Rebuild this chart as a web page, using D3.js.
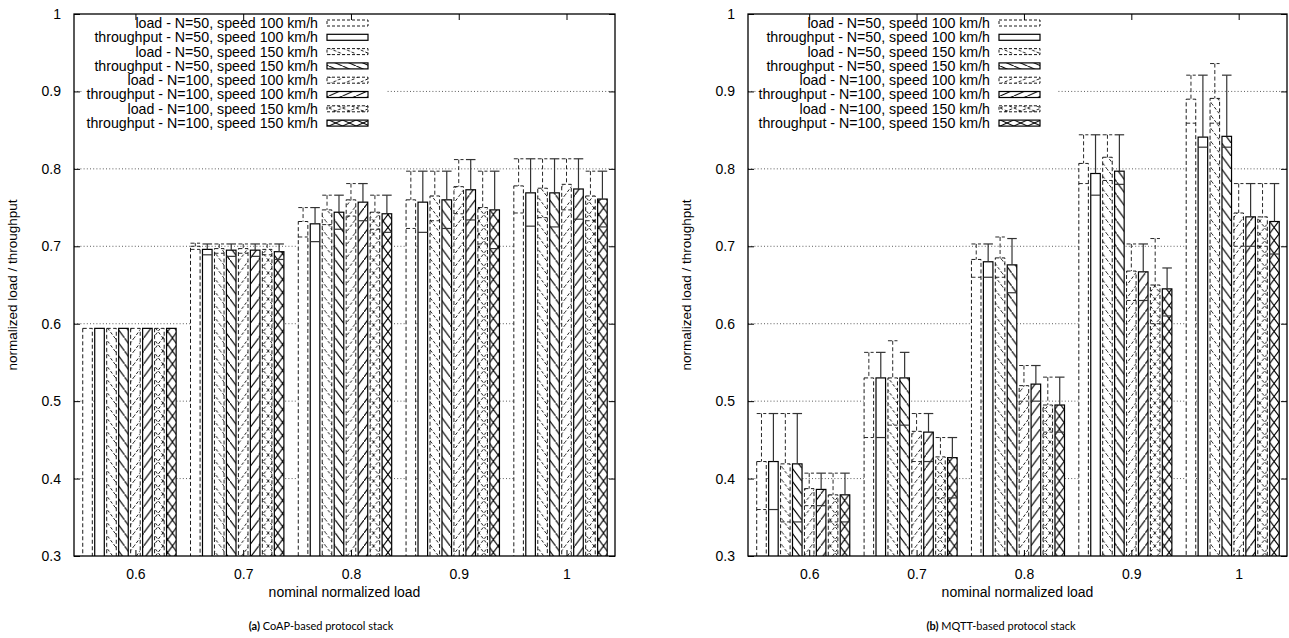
<!DOCTYPE html>
<html>
<head>
<meta charset="utf-8">
<script src="https://cdn.jsdelivr.net/npm/d3@7.9.0/dist/d3.min.js"></script>
<style>
  body { margin: 0; background: #fff; }
  svg text { font-family: "Liberation Sans", Arial, sans-serif; fill: #000; }
  .caption { font-family: Lato, "Open Sans", sans-serif; }
</style>
</head>
<body>
<svg id="chart" width="1289" height="638"></svg>
<script>
const categories = ['0.6', '0.7', '0.8', '0.9', '1'];
const seriesNames = [
  'load - N=50, speed 100 km/h',
  'throughput - N=50, speed 100 km/h',
  'load - N=50, speed 150 km/h',
  'throughput - N=50, speed 150 km/h',
  'load - N=100, speed 100 km/h',
  'throughput - N=100, speed 100 km/h',
  'load - N=100, speed 150 km/h',
  'throughput - N=100, speed 150 km/h'
];
const yTicks = [0.3, 0.4, 0.5, 0.6, 0.7, 0.8, 0.9, 1];

// (a) CoAP : one row per series, one value per category
const coapValues = [
  [0.594, 0.700, 0.732, 0.760, 0.778],
  [0.594, 0.696, 0.729, 0.757, 0.769],
  [0.594, 0.697, 0.747, 0.765, 0.775],
  [0.594, 0.695, 0.744, 0.760, 0.769],
  [0.594, 0.697, 0.760, 0.777, 0.780],
  [0.594, 0.695, 0.757, 0.773, 0.774],
  [0.594, 0.696, 0.744, 0.750, 0.765],
  [0.594, 0.693, 0.742, 0.747, 0.761]
];
const coapHigh = [
  [0.594, 0.704, 0.750, 0.797, 0.813],
  [0.594, 0.703, 0.750, 0.797, 0.813],
  [0.594, 0.703, 0.766, 0.797, 0.813],
  [0.594, 0.703, 0.766, 0.797, 0.813],
  [0.594, 0.703, 0.781, 0.812, 0.813],
  [0.594, 0.703, 0.781, 0.812, 0.813],
  [0.594, 0.703, 0.766, 0.797, 0.797],
  [0.594, 0.703, 0.766, 0.797, 0.797]
];
const coapLow = [
  [0.594, 0.696, 0.712, 0.723, 0.743],
  [0.594, 0.689, 0.706, 0.718, 0.726],
  [0.594, 0.691, 0.728, 0.733, 0.737],
  [0.594, 0.687, 0.722, 0.723, 0.725],
  [0.594, 0.691, 0.739, 0.742, 0.747],
  [0.594, 0.687, 0.733, 0.734, 0.735],
  [0.594, 0.689, 0.722, 0.703, 0.733],
  [0.594, 0.683, 0.718, 0.697, 0.725]
];

// (b) MQTT
const mqttValues = [
  [0.422, 0.530, 0.683, 0.807, 0.890],
  [0.422, 0.530, 0.680, 0.794, 0.841],
  [0.419, 0.530, 0.685, 0.815, 0.891],
  [0.419, 0.530, 0.676, 0.797, 0.842],
  [0.387, 0.461, 0.520, 0.668, 0.743],
  [0.386, 0.460, 0.522, 0.667, 0.738],
  [0.379, 0.428, 0.495, 0.650, 0.738],
  [0.379, 0.427, 0.495, 0.645, 0.732]
];
const mqttHigh = [
  [0.484, 0.563, 0.703, 0.844, 0.921],
  [0.484, 0.563, 0.703, 0.844, 0.921],
  [0.484, 0.578, 0.712, 0.844, 0.936],
  [0.484, 0.563, 0.710, 0.844, 0.921],
  [0.407, 0.484, 0.546, 0.703, 0.781],
  [0.407, 0.484, 0.546, 0.703, 0.781],
  [0.407, 0.453, 0.531, 0.710, 0.781],
  [0.407, 0.453, 0.531, 0.672, 0.781]
];
const mqttLow = [
  [0.360, 0.453, 0.660, 0.781, 0.859],
  [0.360, 0.453, 0.660, 0.766, 0.828],
  [0.344, 0.469, 0.660, 0.785, 0.859],
  [0.344, 0.469, 0.640, 0.780, 0.828],
  [0.365, 0.422, 0.500, 0.630, 0.700],
  [0.365, 0.422, 0.500, 0.630, 0.700],
  [0.344, 0.375, 0.460, 0.600, 0.700],
  [0.344, 0.375, 0.460, 0.610, 0.690]
];

// fill style per series: none, backslash, slash, cross ; dashed = load series
const hatch = ['none', 'none', 'back', 'back', 'fwd', 'fwd', 'cross', 'cross'];
const DASH = '4,2.5';

const svg = d3.select('#chart');
const defs = svg.append('defs');

const nSeries = seriesNames.length;
const slot = 1 / (nSeries + 1);
const barW = slot * 0.8;

// hatch patterns; w/h give the slope of the lines
function makePattern(id, kind, dashed, w, h) {
  const p = defs.append('pattern')
    .attr('id', id)
    .attr('patternUnits', 'userSpaceOnUse')
    .attr('width', w).attr('height', h);
  p.append('rect').attr('width', w).attr('height', h).attr('fill', '#fff');
  const segs = [];
  if (kind === 'back' || kind === 'cross') {
    segs.push([-w, -h, 2 * w, 2 * h]);
  }
  if (kind === 'fwd' || kind === 'cross') {
    segs.push([-w, 2 * h, 2 * w, -h]);
  }
  segs.forEach(s => {
    p.append('line')
      .attr('x1', s[0]).attr('y1', s[1]).attr('x2', s[2]).attr('y2', s[3])
      .attr('stroke', '#000').attr('stroke-width', dashed ? 0.9 : 1.1)
      .attr('stroke-dasharray', dashed ? '3,2' : null);
  });
}

function drawChart(opt) {
  const { left, right, top, bottom, values, low, high, tag } = opt;

  const x = d3.scaleLinear().domain([-0.57, 4.45]).range([left, right]);
  const y = d3.scaleLinear().domain([0.3, 1]).range([bottom, top]);
  const bw = x(barW) - x(0);

  hatch.forEach((k, j) => {
    if (k !== 'none') makePattern(`${tag}-p${j}`, k, j % 2 === 0, bw, 13);
  });

  const g = svg.append('g');

  g.append('clipPath').attr('id', `${tag}-clip`)
    .append('rect')
    .attr('x', left).attr('y', top)
    .attr('width', right - left).attr('height', bottom - top);

  // grid
  g.append('g')
    .selectAll('line')
    .data(yTicks.filter(t => t > 0.3 && t < 1))
    .join('line')
    .attr('x1', left).attr('x2', right)
    .attr('y1', d => y(d)).attr('y2', d => y(d))
    .attr('stroke', '#333')
    .attr('stroke-width', 0.8)
    .attr('stroke-dasharray', '1,2.2');

  const bars = g.append('g').attr('clip-path', `url(#${tag}-clip)`);

  values.forEach((row, j) => {
    const dashed = j % 2 === 0;
    row.forEach((v, i) => {
      const cx = x(i + (j - nSeries / 2) * slot);
      const x0 = cx - bw / 2;
      bars.append('rect')
        .attr('x', x0)
        .attr('y', y(v))
        .attr('width', bw)
        .attr('height', y(0.3) - y(v) + 2)
        .attr('fill', hatch[j] === 'none' ? '#fff' : `url(#${tag}-p${j})`)
        .attr('stroke', '#000')
        .attr('stroke-width', dashed ? 0.9 : 1.2)
        .attr('stroke-dasharray', dashed ? DASH : null);

      // error bar
      const hi = high[j][i];
      const lo = low[j][i];
      const eb = bars.append('g')
        .attr('stroke', dashed ? '#111' : '#333')
        .attr('stroke-width', dashed ? 0.9 : 1.2)
        .attr('stroke-dasharray', dashed ? DASH : null);
      if (hi > v) {
        eb.append('line').attr('x1', cx).attr('x2', cx)
          .attr('y1', y(hi)).attr('y2', y(v));
        eb.append('line').attr('x1', x0).attr('x2', x0 + bw)
          .attr('y1', y(hi)).attr('y2', y(hi));
      }
      if (lo < v) {
        eb.append('line').attr('x1', x0).attr('x2', x0 + bw)
          .attr('y1', y(lo)).attr('y2', y(lo));
      }
    });
  });

  // legend
  const lg = g.append('g');
  const rowH = 14.3;
  const textRight = left + opt.legendTextRight;
  lg.append('rect')
    .attr('x', left + 8).attr('y', top + 2)
    .attr('width', opt.legendTextRight + 60).attr('height', rowH * 8 + 4)
    .attr('fill', '#fff');
  seriesNames.forEach((name, j) => {
    const cy = top + 9 + j * rowH;
    const dashed = j % 2 === 0;
    lg.append('text')
      .attr('x', textRight).attr('y', cy)
      .attr('dy', '0.35em')
      .attr('text-anchor', 'end')
      .attr('font-size', 14.2)
      .text(name);
    lg.append('rect')
      .attr('x', textRight + 9).attr('y', cy - 3)
      .attr('width', 41).attr('height', 6)
      .attr('fill', hatch[j] === 'none' ? '#fff' : `url(#${tag}-l${j})`)
      .attr('stroke', '#000')
      .attr('stroke-width', dashed ? 0.9 : 1.2)
      .attr('stroke-dasharray', dashed ? '3,2' : null);
    if (hatch[j] !== 'none') makePattern(`${tag}-l${j}`, hatch[j], dashed, 13.7, 6);
  });

  // border
  g.append('rect')
    .attr('x', left).attr('y', top)
    .attr('width', right - left).attr('height', bottom - top)
    .attr('fill', 'none').attr('stroke', '#000').attr('stroke-width', 1.3);

  // axes
  const fmt = d => (d === 1 ? '1' : d.toFixed(1));
  const yAxis = g.append('g')
    .attr('transform', `translate(${left},0)`)
    .call(d3.axisLeft(y).tickValues(yTicks).tickFormat(fmt).tickSizeInner(-6).tickSizeOuter(0).tickPadding(13));
  g.append('g')
    .attr('transform', `translate(${right},0)`)
    .call(d3.axisRight(y).tickValues(yTicks).tickFormat('').tickSizeInner(-6).tickSizeOuter(0));
  const xAxis = g.append('g')
    .attr('transform', `translate(0,${bottom})`)
    .call(d3.axisBottom(x).tickValues(d3.range(categories.length)).tickFormat(i => categories[i]).tickSizeInner(-6).tickSizeOuter(0).tickPadding(13));
  g.append('g')
    .attr('transform', `translate(0,${top})`)
    .call(d3.axisTop(x).tickValues(d3.range(categories.length)).tickFormat('').tickSizeInner(-6).tickSizeOuter(0));
  g.selectAll('.domain').remove();
  g.selectAll('.tick line').attr('stroke', '#000');
  yAxis.selectAll('text').attr('font-size', 14).attr('font-family', '"Liberation Sans", Arial, sans-serif');
  xAxis.selectAll('text').attr('font-size', 14).attr('font-family', '"Liberation Sans", Arial, sans-serif');

  // axis titles
  g.append('text')
    .attr('transform', `translate(${left - 57},${(top + bottom) / 2}) rotate(-90)`)
    .attr('text-anchor', 'middle')
    .attr('font-size', 13.5)
    .text('normalized load / throughput');
  g.append('text')
    .attr('x', (left + right) / 2).attr('y', bottom + 41)
    .attr('text-anchor', 'middle')
    .attr('font-size', 14)
    .text('nominal normalized load');

  // caption
  const cap = g.append('text')
    .attr('class', 'caption')
    .attr('x', opt.captionX).attr('y', 630)
    .attr('text-anchor', 'middle')
    .attr('font-size', 11);
  cap.append('tspan').attr('font-weight', 'bold').text(opt.captionTag);
  cap.append('tspan').text(' ' + opt.caption);
}

drawChart({
  tag: 'a', left: 74, right: 615, top: 14, bottom: 556,
  values: coapValues, low: coapLow, high: coapHigh,
  legendTextRight: 244, captionX: 321,
  captionTag: '(a)', caption: 'CoAP-based protocol stack'
});
drawChart({
  tag: 'b', left: 748, right: 1287, top: 14, bottom: 556,
  values: mqttValues, low: mqttLow, high: mqttHigh,
  legendTextRight: 242, captionX: 1001,
  captionTag: '(b)', caption: 'MQTT-based protocol stack'
});
</script>
</body>
</html>
